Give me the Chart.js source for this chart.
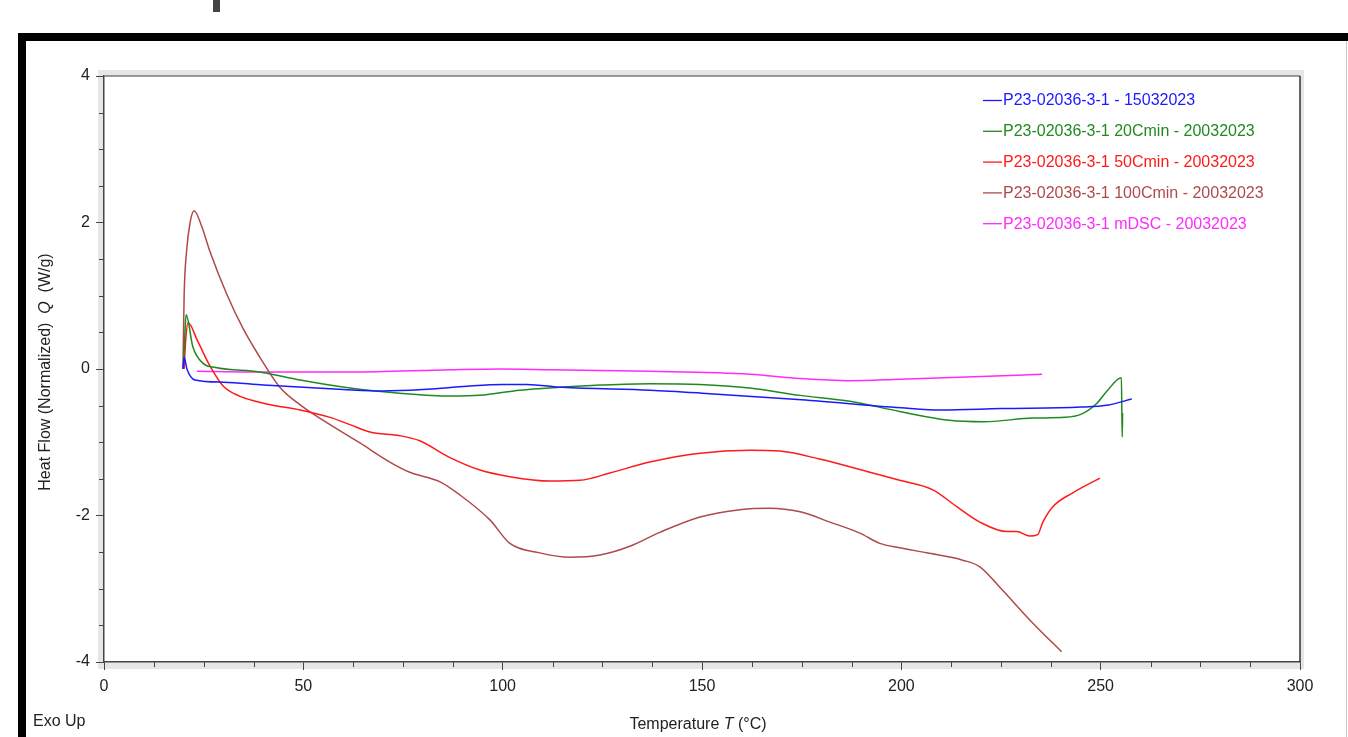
<!DOCTYPE html>
<html>
<head>
<meta charset="utf-8">
<script src="https://cdn.jsdelivr.net/npm/chart.js@4.4.1/dist/chart.umd.min.js"></script>
<style>
  html, body { margin: 0; padding: 0; background: #fff; }
  #wrap { position: absolute; left: 0; top: 0; width: 1348px; height: 737px; }
</style>
</head>
<body>
<div id="wrap"><canvas id="myChart"></canvas></div>
<script>
// Values: temperature (°C) and heat flow (W/g)
const labels = [
  'P23-02036-3-1 - 15032023',
  'P23-02036-3-1 20Cmin - 20032023',
  'P23-02036-3-1 50Cmin - 20032023',
  'P23-02036-3-1 100Cmin - 20032023',
  'P23-02036-3-1 mDSC - 20032023',
];
const colors = ['#1a1aff', '#1f8a1f', '#ff1a1a', '#b04a4a', '#ff2bff'];

const tempBlue = [19.8, 20.1, 20.8, 22.8, 30, 40, 50, 60, 70, 80, 90, 100, 106, 115, 137, 150, 175, 200, 210, 225, 245, 252, 257.8];
const heatBlue = [0.0, 0.16, 0.0, -0.15, -0.18, -0.22, -0.25, -0.28, -0.30, -0.28, -0.24, -0.21, -0.21, -0.25, -0.29, -0.33, -0.42, -0.53, -0.56, -0.54, -0.52, -0.49, -0.41];

const tempGreen = [20.0, 20.3, 20.6, 22.3, 24.8, 28, 39, 49.2, 61.7, 74.2, 86.8, 94.3, 104.3, 114.4, 124.4, 136.9, 149.5, 162, 174.6, 187.1, 199.6, 212, 220.6, 233, 241, 245, 249, 251.6, 255.2, 255.4, 255.5];
const heatGreen = [0.1, 0.5, 0.74, 0.30, 0.08, 0.02, -0.04, -0.15, -0.26, -0.33, -0.37, -0.36, -0.29, -0.25, -0.22, -0.20, -0.21, -0.26, -0.36, -0.44, -0.58, -0.70, -0.72, -0.67, -0.66, -0.62, -0.47, -0.30, -0.12, -0.93, -0.6];

const tempRed = [20.1, 20.5, 21.1, 23.5, 26.5, 30, 34, 38, 42, 49.2, 56.7, 61.7, 66.7, 74.2, 79.2, 86.8, 94.3, 101.8, 111.8, 119.4, 126.9, 136.9, 149.5, 162, 169.5, 179.5, 192.1, 199.6, 207.9, 213.9, 219.7, 226.5, 229, 232.2, 234.2, 235.5, 238, 243, 249.8];
const heatRed = [0.0, 0.4, 0.63, 0.38, 0.05, -0.24, -0.37, -0.44, -0.49, -0.56, -0.66, -0.76, -0.86, -0.91, -0.98, -1.21, -1.38, -1.47, -1.53, -1.52, -1.42, -1.27, -1.15, -1.11, -1.12, -1.23, -1.41, -1.52, -1.65, -1.88, -2.09, -2.22, -2.22, -2.28, -2.26, -2.09, -1.88, -1.69, -1.49];

const tempBrown = [19.8, 20.1, 20.7, 21.6, 22.6, 24.5, 26.6, 30.8, 34.9, 39.1, 44.1, 49.2, 56.7, 64.2, 71.7, 76.7, 84.3, 89.3, 96.8, 101.8, 109.3, 116.9, 124.4, 131.9, 139.4, 149.5, 159.5, 167, 174.6, 182.1, 189.6, 194.6, 199.6, 206.4, 215.4, 219.7, 224.7, 233, 240.2];
const heatBrown = [0.0, 1.0, 1.6, 2.0, 2.16, 1.95, 1.6, 1.02, 0.55, 0.16, -0.25, -0.49, -0.76, -1.01, -1.27, -1.41, -1.54, -1.72, -2.06, -2.38, -2.51, -2.57, -2.54, -2.42, -2.23, -2.02, -1.92, -1.90, -1.95, -2.09, -2.24, -2.38, -2.44, -2.51, -2.61, -2.70, -2.98, -3.47, -3.86];

const tempPink = [23.3, 36.6, 61.7, 86.8, 99.3, 111.8, 136.9, 162, 174.6, 187.1, 199.6, 216.4, 235.3];
const heatPink = [-0.03, -0.04, -0.04, -0.01, 0.0, -0.01, -0.03, -0.07, -0.13, -0.16, -0.14, -0.11, -0.07];

const xTicks = [0, 50, 100, 150, 200, 250, 300];
const yTicks = [-4, -2, 0, 2, 4];

function pairs(xs, ys) {
  return xs.map((x, i) => ({ x: x, y: ys[i] }));
}

const series = [
  pairs(tempBlue, heatBlue),
  pairs(tempGreen, heatGreen),
  pairs(tempRed, heatRed),
  pairs(tempBrown, heatBrown),
  pairs(tempPink, heatPink),
];

const FONT = '"Liberation Sans", Arial, sans-serif';

// Frame, bevel, borders, minor ticks, titles and legend
const decor = {
  id: 'decor',
  beforeDraw(chart) {
    const ctx = chart.ctx;
    const a = chart.chartArea;
    ctx.save();
    ctx.fillStyle = '#fff';
    ctx.fillRect(0, 0, chart.width, chart.height);
    // outer black frame
    ctx.fillStyle = '#000';
    ctx.fillRect(18, 33, chart.width - 18, 8);
    ctx.fillRect(18, 33, 8, chart.height - 33);
    ctx.fillStyle = '#c8c8c8';
    ctx.fillRect(1346, 41, 1, chart.height - 41);
    ctx.fillStyle = '#444';
    ctx.fillRect(213, 0, 7, 12);
    // bevel round the plot
    ctx.fillStyle = '#e6e6e6';
    ctx.fillRect(a.left - 6, a.top - 6, a.right - a.left + 10, a.bottom - a.top + 13);
    ctx.fillStyle = '#fff';
    ctx.fillRect(a.left, a.top, a.right - a.left, a.bottom - a.top);
    ctx.restore();
  },
  afterDraw(chart) {
    const ctx = chart.ctx;
    const a = chart.chartArea;
    const xs = chart.scales.x;
    const ys = chart.scales.y;
    ctx.save();
    // top and right borders
    ctx.strokeStyle = '#7a7a7a';
    ctx.lineWidth = 1.5;
    ctx.beginPath();
    ctx.moveTo(a.left, a.top);
    ctx.lineTo(a.right, a.top);
    ctx.stroke();
    ctx.strokeStyle = '#333';
    ctx.beginPath();
    ctx.moveTo(a.right, a.top);
    ctx.lineTo(a.right, a.bottom);
    ctx.stroke();
    // minor ticks
    ctx.strokeStyle = '#444';
    ctx.lineWidth = 1;
    for (let v = 0; v <= 300; v += 12.5) {
      if (v % 50 === 0) continue;
      const px = Math.round(xs.getPixelForValue(v)) + 0.5;
      ctx.beginPath();
      ctx.moveTo(px, a.bottom);
      ctx.lineTo(px, a.bottom + 5);
      ctx.stroke();
    }
    for (let v = -4; v <= 4; v += 0.5) {
      if (v % 2 === 0) continue;
      const py = Math.round(ys.getPixelForValue(v)) + 0.5;
      ctx.beginPath();
      ctx.moveTo(a.left, py);
      ctx.lineTo(a.left - 5, py);
      ctx.stroke();
    }
    // axis titles
    ctx.fillStyle = '#222';
    ctx.textBaseline = 'middle';
    const xParts = [['Temperature ', ''], ['T', 'italic '], [' (°C)', '']];
    drawParts(ctx, xParts, 698, 725);
    ctx.translate(46, 372);
    ctx.rotate(-Math.PI / 2);
    const yParts = [['Heat Flow (Normalized)  ', ''], ['Q', 'italic '], ['  (W/g)', '']];
    drawParts(ctx, yParts, 0, 0);
    ctx.restore();

    ctx.save();
    ctx.font = '16px ' + FONT;
    ctx.fillStyle = '#222';
    ctx.textBaseline = 'middle';
    ctx.fillText('Exo Up', 33, 722);
    // legend
    chart.data.datasets.forEach((ds, i) => {
      const y = 100 + i * 30.8;
      ctx.strokeStyle = ds.borderColor;
      ctx.lineWidth = 1.3;
      ctx.beginPath();
      ctx.moveTo(983, y + 0.5);
      ctx.lineTo(1002, y + 0.5);
      ctx.stroke();
      ctx.fillStyle = ds.borderColor;
      ctx.font = '16px ' + FONT;
      ctx.fillText(ds.label, 1003, y + 1);
    });
    ctx.restore();
  },
};

function drawParts(ctx, parts, cx, cy) {
  let total = 0;
  parts.forEach(p => {
    ctx.font = p[1] + '16px ' + FONT;
    total += ctx.measureText(p[0]).width;
  });
  let x = cx - total / 2;
  ctx.textAlign = 'left';
  parts.forEach(p => {
    ctx.font = p[1] + '16px ' + FONT;
    ctx.fillText(p[0], x, cy);
    x += ctx.measureText(p[0]).width;
  });
}

const data = {
  datasets: series.map((pts, i) => ({
    label: labels[i],
    data: pts,
    borderColor: colors[i],
    borderWidth: 1.5,
    pointRadius: 0,
    fill: false,
    cubicInterpolationMode: 'monotone',
  })),
};

const config = {
  type: 'line',
  data: data,
  options: {
    responsive: true,
    maintainAspectRatio: false,
    animation: false,
    parsing: false,
    layout: { padding: { left: 0, top: 76, right: 48, bottom: 0 } },
    plugins: {
      legend: { display: false },
      tooltip: { enabled: false },
    },
    scales: {
      x: {
        type: 'linear',
        min: 0,
        max: 300,
        afterFit(scale) { scale.height = 75; },
        afterBuildTicks(scale) {
          const t = [];
          for (let v = 0; v <= 300; v += 12.5) t.push({ value: v });
          scale.ticks = t;
        },
        ticks: {
          autoSkip: false,
          maxRotation: 0,
          padding: 7,
          color: '#222',
          font: { family: FONT, size: 16 },
          callback: v => (xTicks.includes(v) ? String(v) : ''),
        },
        grid: {
          drawOnChartArea: false,
          tickLength: 8,
          tickColor: c => (xTicks.includes(c.tick.value) ? '#444' : 'rgba(0,0,0,0)'),
        },
        border: { color: '#444', width: 1.5 },
      },
      y: {
        type: 'linear',
        min: -4,
        max: 4,
        afterFit(scale) { scale.width = 104; },
        afterBuildTicks(scale) {
          const t = [];
          for (let v = -4; v <= 4; v += 0.5) t.push({ value: v });
          scale.ticks = t;
        },
        ticks: {
          autoSkip: false,
          padding: 6,
          color: '#222',
          font: { family: FONT, size: 16 },
          callback: v => (yTicks.includes(v) ? String(v) : ''),
        },
        grid: {
          drawOnChartArea: false,
          tickLength: 8,
          tickColor: c => (yTicks.includes(c.tick.value) ? '#444' : 'rgba(0,0,0,0)'),
        },
        border: { color: '#444', width: 1.5 },
      },
    },
  },
  plugins: [decor],
};

const myChart = new Chart(document.getElementById('myChart'), config);
</script>
</body>
</html>
